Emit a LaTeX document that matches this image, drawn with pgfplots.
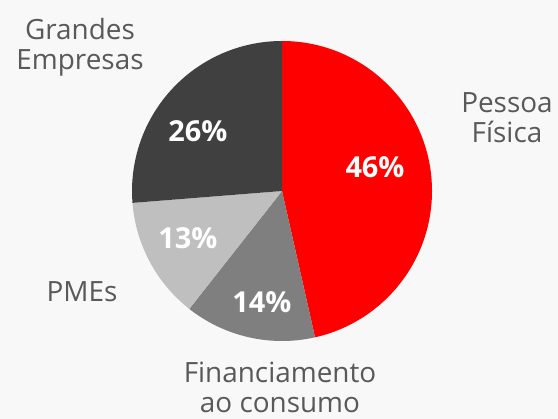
\documentclass[border=0pt]{standalone}
\usepackage{pgfplots}
\pgfplotsset{compat=1.18}
\usepackage{fontspec}
\setmainfont{Open Sans}
\definecolor{bgc}{HTML}{F8F8F8}
\definecolor{txt}{HTML}{595959}
\definecolor{pred}{HTML}{FF0000}
\definecolor{pmid}{HTML}{7F7F7F}
\definecolor{plight}{HTML}{BFBFBF}
\definecolor{pdark}{HTML}{404040}
% shares in percent (they add up to 99)
% \slice{from}{to}{colour}: cumulative shares, clockwise from the top
\newcommand\slice[3]{%
  \fill[#3] (axis cs:282,228) -- ++({90-#1/99*360}:150bp)
    arc[start angle={90-#1/99*360}, end angle={90-#2/99*360}, radius=150bp] -- cycle;
}
\begin{document}
\begin{tikzpicture}
\begin{axis}[
    width=558bp, height=419bp, scale only axis,
    xmin=0, xmax=558, ymin=0, ymax=419,
    hide axis,
    clip=false,
]
\fill[bgc] (axis cs:0,0) rectangle (axis cs:558,419);
\slice{0}{46}{pred}
\slice{46}{60}{pmid}
\slice{60}{73}{plight}
\slice{73}{99}{pdark}
\begin{scope}[every node/.style={text=white, font=\fontsize{29}{32}\selectfont\bfseries}]
\node at (axis cs:375,252) {46\%};
\node at (axis cs:262,117) {14\%};
\node at (axis cs:188,181) {13\%};
\node at (axis cs:198,288) {26\%};
\end{scope}
\begin{scope}[every node/.style={text=txt, align=center, font=\fontsize{28}{30}\selectfont}]
\node at (axis cs:507,301) {Pessoa\\Física};
\node at (axis cs:280,32) {Financiamento\\ao consumo};
\node at (axis cs:82,127) {PMEs};
\node at (axis cs:80,372) {Grandes\\Empresas};
\end{scope}
\end{axis}
\end{tikzpicture}
\end{document}
